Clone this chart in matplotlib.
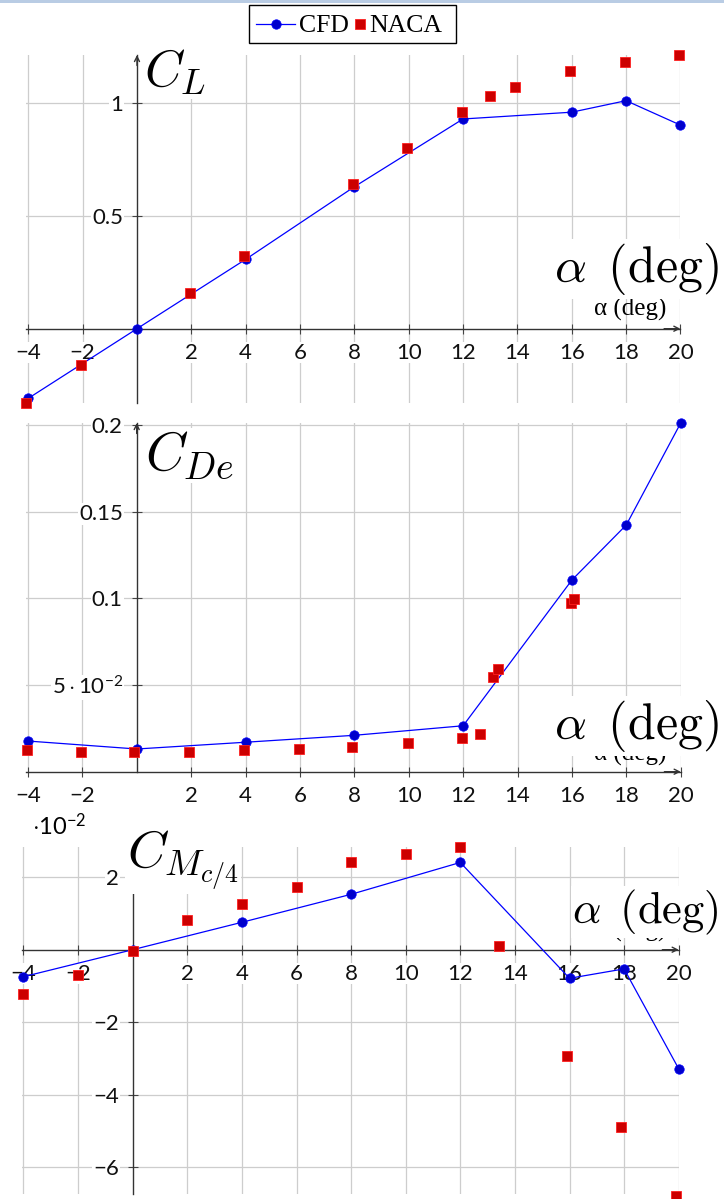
import matplotlib
matplotlib.use('Agg')
import matplotlib.pyplot as plt
from matplotlib.patches import Rectangle

plt.rcParams['font.family'] = ['Lato', 'DejaVu Sans']
plt.rcParams['mathtext.fontset'] = 'custom'
plt.rcParams['mathtext.rm'] = 'Lato'
plt.rcParams['mathtext.it'] = 'Lato:italic'

W, H, DPI = 724, 1199, 100

# ---------------- data ----------------
series_names = ['CFD', 'NACA']

alpha_cfd = [-4, 0, 4, 8, 12, 16, 18, 20]
cl_cfd = [-0.308, 0.0, 0.307, 0.628, 0.928, 0.958, 1.009, 0.901]
alpha_naca_cl = [-4.1, -2.05, 1.95, 3.95, 7.95, 9.95, 11.95, 13.0, 13.9, 15.95, 17.95, 19.95]
cl_naca = [-0.330, -0.161, 0.159, 0.322, 0.640, 0.800, 0.960, 1.030, 1.071, 1.140, 1.180, 1.210]

cd_cfd = [0.0177, 0.0131, 0.0170, 0.0210, 0.0265, 0.1106, 0.1424, 0.2012]
alpha_naca_cd = [-4.05, -2.06, -0.1, 1.92, 3.94, 5.96, 7.92, 9.96, 11.95, 12.62, 13.1, 13.28, 15.97, 16.09]
cd_naca = [0.0123, 0.0114, 0.0112, 0.0115, 0.0127, 0.0133, 0.0144, 0.0167, 0.0196, 0.0216,
           0.0546, 0.0594, 0.0972, 0.0995]

cm_cfd = [-0.00746, 0.0, 0.00757, 0.0153, 0.0241, -0.0079, -0.0053, -0.0329]
alpha_naca_cm = [-4, -2, 0, 2, 4, 6, 8, 10, 12, 13.4, 15.9, 17.9, 19.9]
cm_naca = [-0.0122, -0.0070, -0.0004, 0.0082, 0.0126, 0.0174, 0.0241, 0.0264, 0.0285,
           0.0011, -0.0294, -0.0489, -0.0681]

x_ticks = [-4, -2, 2, 4, 6, 8, 10, 12, 14, 16, 18, 20]
x_ticklabels = ['\u22124', '\u22122', '2', '4', '6', '8', '10', '12', '14', '16', '18', '20']
cl_ticks = [0.5, 1.0]
cl_ticklabels = ['0.5', '1']
cd_ticks = [0.05, 0.1, 0.15, 0.2]
cd_ticklabels = [r'$5\cdot10^{-2}$', '0.1', '0.15', '0.2']
cm_ticks = [-0.06, -0.04, -0.02, 0.02]
cm_ticklabels = ['\u22126', '\u22124', '\u22122', '2']

xlabel_big = r'$\alpha\ \,(\mathrm{deg})$'
xlabel_small = '\u03b1 (deg)'
ylabels = [r'$C_L$', r'$C_{De}$', r'$C_{M_{c/4}}$']

# ---------------- figure ----------------
fig = plt.figure(figsize=(W / DPI, H / DPI), dpi=DPI)

BLUE = '#0000ff'
BLUE_FILL = '#0000cc'
RED_EDGE = '#ff2020'
RED_FILL = '#cc0000'
AXC = '#333333'
TICKFS = 16


def make_axes(x0, sx, y0, sy, xlim, ylim):
    left = x0 + xlim[0] * sx
    right = x0 + xlim[1] * sx
    top = y0 - ylim[1] * sy
    bottom = y0 - ylim[0] * sy
    ax = fig.add_axes([left / W, 1 - bottom / H, (right - left) / W, (bottom - top) / H])
    ax.set_xlim(xlim)
    ax.set_ylim(ylim)
    ax.patch.set_alpha(0)
    ax.set_axisbelow(True)
    for s in ['top', 'right']:
        ax.spines[s].set_visible(False)
    ax.spines['left'].set_position(('data', 0))
    ax.spines['bottom'].set_position(('data', 0))
    for s in ['left', 'bottom']:
        ax.spines[s].set_color(AXC)
        ax.spines[s].set_linewidth(1.0)
    ax.grid(True, color='#cdcdcd', lw=0.9)
    ax.tick_params(direction='inout', length=7, width=0.8, color='#444444',
                   labelsize=TICKFS, pad=6.5, labelcolor='#111111')
    ax.set_xticks(x_ticks)
    ax.set_xticklabels(x_ticklabels)
    # arrows at axis ends
    ax.annotate('', xy=(xlim[1], 0), xytext=(xlim[1] - 0.6, 0),
                arrowprops=dict(arrowstyle='->', color=AXC, lw=1.0, shrinkA=0, shrinkB=0,
                                mutation_scale=9), annotation_clip=False)
    dy = (ylim[1] - ylim[0]) * 0.03
    ax.annotate('', xy=(0, ylim[1]), xytext=(0, ylim[1] - dy),
                arrowprops=dict(arrowstyle='->', color=AXC, lw=1.0, shrinkA=0, shrinkB=0,
                                mutation_scale=9), annotation_clip=False)
    return ax


def plot_series(ax, xc, yc, xn, yn):
    ax.plot(xc, yc, '-o', color=BLUE, lw=0.9, ms=6.8, mfc=BLUE_FILL, mec=BLUE, mew=0.5,
            zorder=3, clip_on=False)
    ax.plot(xn, yn, 's', linestyle='none', ms=7.2, mfc=RED_FILL, mec=RED_EDGE, mew=0.6,
            zorder=4, clip_on=False)


def finish_labels(ax):
    for lbl in ax.get_xticklabels() + ax.get_yticklabels():
        lbl.set_bbox(dict(facecolor='white', edgecolor='none', pad=0.6))


ax1 = make_axes(137.0, 27.17, 328.7, 226.0, (-4.1, 20.0), (-0.33, 1.211))
ax1.set_yticks(cl_ticks)
ax1.set_yticklabels(cl_ticklabels)
plot_series(ax1, alpha_cfd, cl_cfd, alpha_naca_cl, cl_naca)
finish_labels(ax1)

ax2 = make_axes(136.7, 27.2, 771.7, 1733.0, (-4.08, 20.0), (0.0, 0.2012))
ax2.set_yticks(cd_ticks)
ax2.set_yticklabels(cd_ticklabels)
plot_series(ax2, alpha_cfd, cd_cfd, alpha_naca_cd, cd_naca)
finish_labels(ax2)

ax3 = make_axes(132.7, 27.3, 949.7, 3620.0, (-4.05, 20.0), (-0.0675, 0.0285))
ax3.set_yticks(cm_ticks)
ax3.set_yticklabels(cm_ticklabels)
plot_series(ax3, alpha_cfd, cm_cfd, alpha_naca_cm, cm_naca)
finish_labels(ax3)

# ---------------- overlay (pixel coordinates) ----------------
ov = fig.add_axes([0, 0, 1, 1], zorder=10)
ov.set_xlim(0, W)
ov.set_ylim(H, 0)
ov.axis('off')
ov.patch.set_alpha(0)

ov.add_patch(Rectangle((0, 0), W, 3, facecolor='#b9cce4', edgecolor='none'))

white = dict(boxstyle='square,pad=0.04', facecolor='white', edgecolor='none')

# small axis labels
for yb in (309, 754, 930):
    ov.text(630, yb, xlabel_small, family=['Liberation Serif', 'DejaVu Serif'], fontsize=18,
            ha='center', va='center', zorder=2)

# big axis labels
for (xr, yb, fs) in ((719, 282, 36), (719, 739, 36), (719, 923, 32)):
    ov.text(xr, yb, xlabel_big, fontsize=fs, math_fontfamily='cm', ha='right', va='baseline',
            bbox=white, zorder=3)

for (xl, yb, fs), lab in zip(((144, 86, 37), (145, 470, 39), (127, 868, 38)), ylabels):
    ov.text(xl, yb, lab, fontsize=fs, math_fontfamily='cm', ha='left', va='baseline',
            bbox=white, zorder=3)

# scale note of the moment panel
ov.text(32, 835, r'$\cdot10^{-2}$', fontsize=17, ha='left', va='baseline', zorder=3)

# legend
ov.add_patch(Rectangle((249, 5), 207, 38, facecolor='white', edgecolor='black', lw=1.0, zorder=4))
ov.plot([256, 295], [24, 24], '-', color=BLUE, lw=0.9, zorder=5)
ov.plot([275.5], [24], 'o', ms=6.8, mfc=BLUE_FILL, mec=BLUE, mew=0.5, zorder=6)
ov.text(299, 32, series_names[0], family=['Liberation Serif'], fontsize=18.5,
        ha='left', va='baseline', zorder=6)
ov.plot([360], [24], 's', ms=7.2, mfc=RED_FILL, mec=RED_EDGE, mew=0.6, zorder=6)
ov.text(369, 32, series_names[1], family=['Liberation Serif'], fontsize=18.5,
        ha='left', va='baseline', zorder=6)

fig.savefig('out.png', dpi=DPI)
